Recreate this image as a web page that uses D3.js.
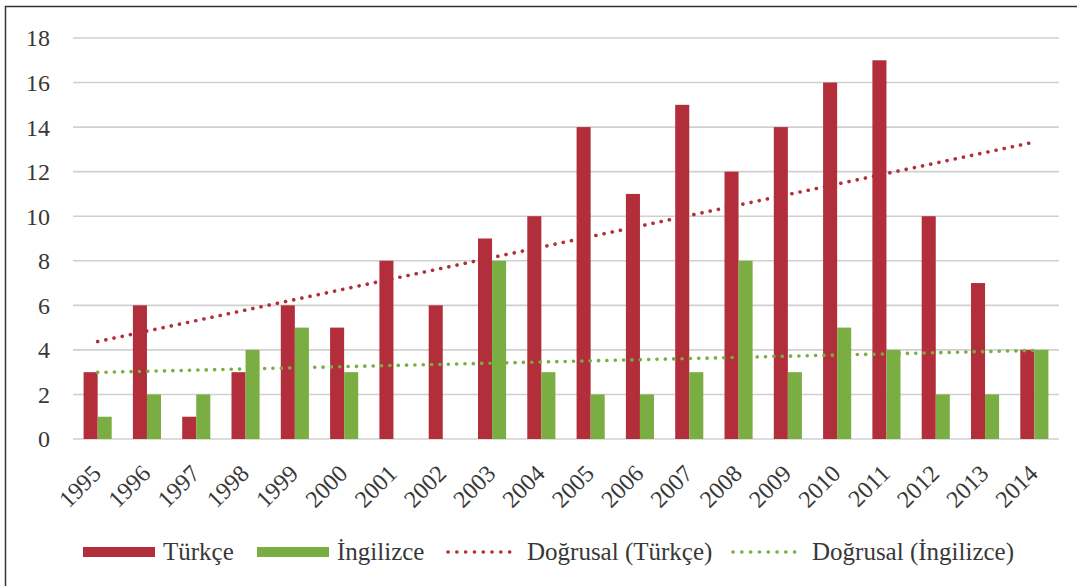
<!DOCTYPE html>
<html>
<head>
<meta charset="utf-8">
<script src="https://cdn.jsdelivr.net/npm/d3@7"></script>
<style>
  body { margin: 0; background: #fff; }
  svg { display: block; }
</style>
</head>
<body>
<svg width="1077" height="586"></svg>
<script>
var years = ["1995","1996","1997","1998","1999","2000","2001","2002","2003","2004",
             "2005","2006","2007","2008","2009","2010","2011","2012","2013","2014"];
var turkce =   [3, 6, 1, 3, 6, 5, 8, 6, 9, 10, 14, 11, 15, 12, 14, 16, 17, 10, 7, 4];
var ingilizce = [1, 2, 2, 4, 5, 3, null, null, 8, 3, 2, 2, 3, 8, 3, 5, 4, 2, 2, 4];
var yTicks = [0, 2, 4, 6, 8, 10, 12, 14, 16, 18];

var red = "#b12e3a", green = "#7aad42", ink = "#383838";
var font = "'Liberation Serif'";

var svg = d3.select("svg"),
    margin = {top: 38, right: 18, bottom: 147, left: 73},
    width = +svg.attr("width") - margin.left - margin.right,
    height = +svg.attr("height") - margin.top - margin.bottom;

// frame (only left and top edges show in the picture)
svg.append("path")
    .attr("d", "M5.5,600V6.5H1090")
    .attr("fill", "none")
    .attr("stroke", "#333")
    .attr("stroke-width", 1.5);

var g = svg.append("g").attr("transform", "translate(" + margin.left + "," + margin.top + ")");

var x = d3.scaleBand().domain(years).range([0, width]).paddingInner(0.43).paddingOuter(0.215),
    x1 = d3.scaleBand().domain(["t", "i"]).range([0, x.bandwidth()]),
    y = d3.scaleLinear().domain([0, 18]).range([height, 0]);

// gridlines
g.append("g").selectAll("line")
  .data(yTicks)
  .enter().append("line")
    .attr("x1", 0).attr("x2", width)
    .attr("y1", function(d) { return y(d); })
    .attr("y2", function(d) { return y(d); })
    .attr("stroke", "#d0d0d0")
    .attr("stroke-width", 1.6);

// y labels
g.append("g").selectAll("text")
  .data(yTicks)
  .enter().append("text")
    .attr("x", -23)
    .attr("y", function(d) { return y(d); })
    .attr("dy", "0.35em")
    .attr("text-anchor", "end")
    .style("font-family", font)
    .style("font-size", "24px")
    .style("fill", ink)
    .text(function(d) { return d; });

// bars
var rows = years.map(function(yr, i) { return {year: yr, t: turkce[i], i: ingilizce[i]}; });
var grp = g.selectAll(".year")
  .data(rows)
  .enter().append("g")
    .attr("transform", function(d) { return "translate(" + x(d.year) + ",0)"; });

grp.append("rect")
    .attr("x", x1("t"))
    .attr("width", x1.bandwidth())
    .attr("y", function(d) { return y(d.t); })
    .attr("height", function(d) { return height - y(d.t); })
    .attr("fill", red);

grp.filter(function(d) { return d.i != null; }).append("rect")
    .attr("x", x1("i"))
    .attr("width", x1.bandwidth())
    .attr("y", function(d) { return y(d.i); })
    .attr("height", function(d) { return height - y(d.i); })
    .attr("fill", green);

// linear trend (blank cells skipped, like the spreadsheet does)
function trend(vals) {
  var pts = [];
  vals.forEach(function(v, i) { if (v != null) pts.push([i, v]); });
  var mx = d3.mean(pts, function(p) { return p[0]; }),
      my = d3.mean(pts, function(p) { return p[1]; });
  var sxy = d3.sum(pts, function(p) { return (p[0] - mx) * (p[1] - my); }),
      sxx = d3.sum(pts, function(p) { return (p[0] - mx) * (p[0] - mx); });
  var b = sxy / sxx, a = my - b * mx;
  return [[0, a], [vals.length - 1, a + b * (vals.length - 1)]];
}

var line = d3.line()
    .x(function(d) { return x(years[d[0]]) + x.bandwidth() / 2; })
    .y(function(d) { return y(d[1]); });

[[turkce, red], [ingilizce, green]].forEach(function(s) {
  g.append("path")
      .attr("d", line(trend(s[0])))
      .attr("fill", "none")
      .attr("stroke", s[1])
      .attr("stroke-width", 3.6)
      .attr("stroke-linecap", "round")
      .attr("stroke-dasharray", "0.1 8.25");
});

// x labels
g.append("g").selectAll("text")
  .data(years)
  .enter().append("text")
    .attr("transform", function(d) {
      return "translate(" + (x(d) + x.bandwidth() / 2 - 1) + "," + (height + 30) + ") rotate(-45)";
    })
    .attr("text-anchor", "end")
    .attr("dy", "0.35em")
    .style("font-family", font)
    .style("font-size", "24px")
    .style("fill", ink)
    .text(function(d) { return d; });

// legend
var legend = [
  {label: "Türkçe", color: red, type: "bar", x: 83},
  {label: "İngilizce", color: green, type: "bar", x: 257},
  {label: "Doğrusal (Türkçe)", color: red, type: "dot", x: 447},
  {label: "Doğrusal (İngilizce)", color: green, type: "dot", x: 732}
];
var ly = 552;
var lg = svg.append("g").selectAll("g")
  .data(legend)
  .enter().append("g")
    .attr("transform", function(d) { return "translate(" + d.x + "," + ly + ")"; });

lg.filter(function(d) { return d.type === "bar"; }).append("rect")
    .attr("x", 0).attr("y", -5).attr("width", 72).attr("height", 10)
    .attr("fill", function(d) { return d.color; });

lg.filter(function(d) { return d.type === "dot"; }).append("line")
    .attr("x1", 1).attr("x2", 71).attr("y1", 0).attr("y2", 0)
    .attr("stroke", function(d) { return d.color; })
    .attr("stroke-width", 3.6)
    .attr("stroke-linecap", "round")
    .attr("stroke-dasharray", "0.1 8.7");

lg.append("text")
    .attr("x", 80)
    .attr("y", 0)
    .attr("dy", "0.33em")
    .style("font-family", font)
    .style("font-size", "25px")
    .style("fill", ink)
    .text(function(d) { return d.label; });
</script>
</body>
</html>
